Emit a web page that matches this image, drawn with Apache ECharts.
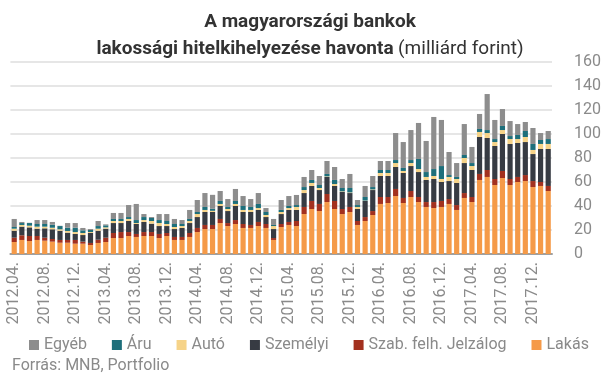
<!DOCTYPE html>
<html><head><meta charset="utf-8">
<script src="https://cdn.jsdelivr.net/npm/echarts@6/dist/echarts.min.js"></script>
<style>html,body{margin:0;padding:0;background:#fff}#c{width:604px;height:379px}</style>
</head><body><div id="c"></div>
<script>
// months 2012.04 .. 2018.02
const categories = [];
(function(){ let y=2012,m=4; for(let i=0;i<71;i++){ categories.push(y+'.'+(m<10?'0'+m:m)+'.'); m++; if(m>12){m=1;y++;} } })();

const lakas = [10,11.7,10.8,11.7,11.1,10.3,9.4,9.4,8.6,8.6,7.5,9.2,10,13.3,13.3,15,14.2,15,15,13.3,15,11.7,11.7,14.2,18.3,20.8,20.8,25.8,23.3,25,21.7,21.7,23.3,21.7,11.7,22.5,24.2,23.3,33.3,37.5,35.8,43.3,37.5,33.3,35,24.2,27.5,32.5,41.7,42.5,48.3,42.5,47.5,43.3,39.2,38.3,39.2,41.7,36.7,46.7,43.3,61.7,64.2,57.5,63.3,57.5,60,60.8,55.8,56.7,52.5];
const jelzalog = [3.6,3.9,4.2,3.3,2.5,2.2,2.3,2.3,3.1,1.7,1.7,2.7,3.6,4.2,5,3.3,2.5,3.3,3.3,3.4,2.5,2.5,2.5,3.3,3.4,3.4,3.4,3.4,2.5,3.3,3.3,2.5,3.4,3.3,1.6,2.5,2.5,4.2,5.9,6.7,5.9,6.7,6.7,4.2,4.2,3.3,3.3,3.3,5.8,5,5.9,4.2,5,4.2,4.1,5,5,4.1,4.1,4.1,4.2,5,5.8,5,5.9,5,4.2,5,5,3.3,4.2];
const szemelyi = [5.8,7.2,7.2,6.1,7.8,8.1,7.7,6.1,5,5.5,8.3,7.5,7.5,8.3,7.5,9.2,8.3,8.4,7,6.6,5.8,6.6,7.5,8.3,9.1,10.8,10.8,10.8,10,11.7,10,10.8,10,5.8,7.5,8.3,10,9.2,11.6,12.5,11.6,14.2,12.5,14.2,11.6,10,13.4,17.5,17.5,17.5,18.3,20.8,20.8,20.8,18.4,19.2,15.8,15,18.4,25,22.5,30.8,26.7,27.5,30.8,29.2,28.3,27.5,22.5,27.5,30.8];
const auto = [1.7,1.4,1.4,1.7,1.4,1.3,1.2,1.4,1.6,1.7,0.8,1.7,1.1,1.7,1.7,1.7,0.8,1.6,2.2,2.5,1.7,1.7,1.6,1.7,2.5,1.7,1,1.7,1.7,1.7,1.7,1.7,1.6,1.7,2.5,1.7,1.6,2.5,2.5,2.5,1.7,0.5,1.6,0.5,0.5,1.7,0.3,0.5,2.5,2.5,3.3,1.7,2.5,2.5,2.5,2.5,2.5,3.4,3.3,4.2,3.3,4.2,4.1,3.3,3.3,4.1,3.3,4.2,3.4,4.2,4.2];
const aru = [1.4,1.6,2.2,2.2,2.2,2.5,2.7,2.7,3.6,2.2,1.7,2.2,1.7,1.7,1.7,1.6,2.5,2.5,2.5,2.5,2.5,2.5,1.7,1.7,1.7,2.5,1.7,2.5,1.7,2.5,3.3,2.5,3.4,2.5,0.9,1.7,1.7,1.6,2.5,2.5,2.5,2,3.4,2.8,3.7,1.6,3,2,2.5,2.5,2.5,2.5,2.5,8.4,4.1,5.8,10.8,1.6,1.7,2.5,2.5,2.5,2.5,2.5,3.4,2.5,3.4,5,5,3.3,4.1];
const egyeb = [6.7,0.9,0.2,3.3,3.3,2.3,0.2,3.9,3.9,2,0.8,4.2,0.8,5,5,10,13.4,2.5,0.8,5,5.8,4.2,3.3,7.5,10,11.6,11.6,8.3,6.6,10,8.3,6.6,9.1,3.3,5,8.3,8.3,8.4,8.4,8.3,7.5,10.8,10.8,7.5,11.7,4.2,9.2,9.2,7.5,7.5,22.5,21.6,25,30,25.9,43.4,38.4,19.2,11.6,25.8,13.4,12.5,30,15.9,14.1,12.5,9.1,7.5,13.3,5.8,6.7];

const yTicks = {min:0, max:160, interval:20};
const seriesNames = ['Egyéb','Áru','Autó','Személyi','Szab. felh. Jelzálog','Lakás'];
const colors = {'Lakás':'#f59a48','Szab. felh. Jelzálog':'#a3311f','Személyi':'#373b43','Autó':'#f6d388','Áru':'#1e6f7b','Egyéb':'#8d8d8d'};
const dataMap = {'Lakás':lakas,'Szab. felh. Jelzálog':jelzalog,'Személyi':szemelyi,'Autó':auto,'Áru':aru,'Egyéb':egyeb};
const stackOrder = ['Lakás','Szab. felh. Jelzálog','Személyi','Autó','Áru','Egyéb'];

const chart = echarts.init(document.getElementById('c'));
const grey = '#8a8a8a';
chart.setOption({
  animation:false,
  textStyle:{fontFamily:'Roboto'},
  title:{
    left:305, top:4, textAlign:'center',
    text:'{b|A magyarországi bankok}\n{b|lakossági hitelkihelyezése havonta} {n|(milliárd forint)}',
    textStyle:{rich:{
      b:{fontFamily:'Roboto',fontWeight:'bold',fontSize:19,color:'#333',lineHeight:27},
      n:{fontFamily:'Roboto',fontWeight:'normal',fontSize:19,color:'#333',lineHeight:27}
    }}
  },
  grid:{left:10.4, right:41, top:62, bottom:125, containLabel:false},
  legend:{
    data:seriesNames, left:24, top:332, itemWidth:10, itemHeight:10, itemGap:25, icon:'rect',
    textStyle:{fontSize:16, color:grey, fontFamily:'Roboto'}
  },
  graphic:[{type:'text', left:12, top:358, style:{text:'Forrás: MNB, Portfolio', fill:grey, fontSize:16, fontFamily:'Roboto'}}],
  xAxis:{
    type:'category', data:categories,
    axisLine:{lineStyle:{color:'#a0a0a0', width:2}},
    axisTick:{show:false},
    axisLabel:{rotate:90, interval:3, fontSize:16, color:grey, margin:8, fontFamily:'Roboto'}
  },
  yAxis:{
    type:'value', position:'right', min:yTicks.min, max:yTicks.max, interval:yTicks.interval,
    axisLine:{show:false}, axisTick:{show:false},
    axisLabel:{fontSize:16, color:grey, margin:22, fontFamily:'Roboto'},
    splitLine:{lineStyle:{color:'#dedede', width:1.5}}
  },
  series: stackOrder.map(n=>({
    name:n, type:'bar', stack:'t', data:dataMap[n], barCategoryGap:'32%',
    itemStyle:{color:colors[n]}
  }))
});
</script></body></html>
